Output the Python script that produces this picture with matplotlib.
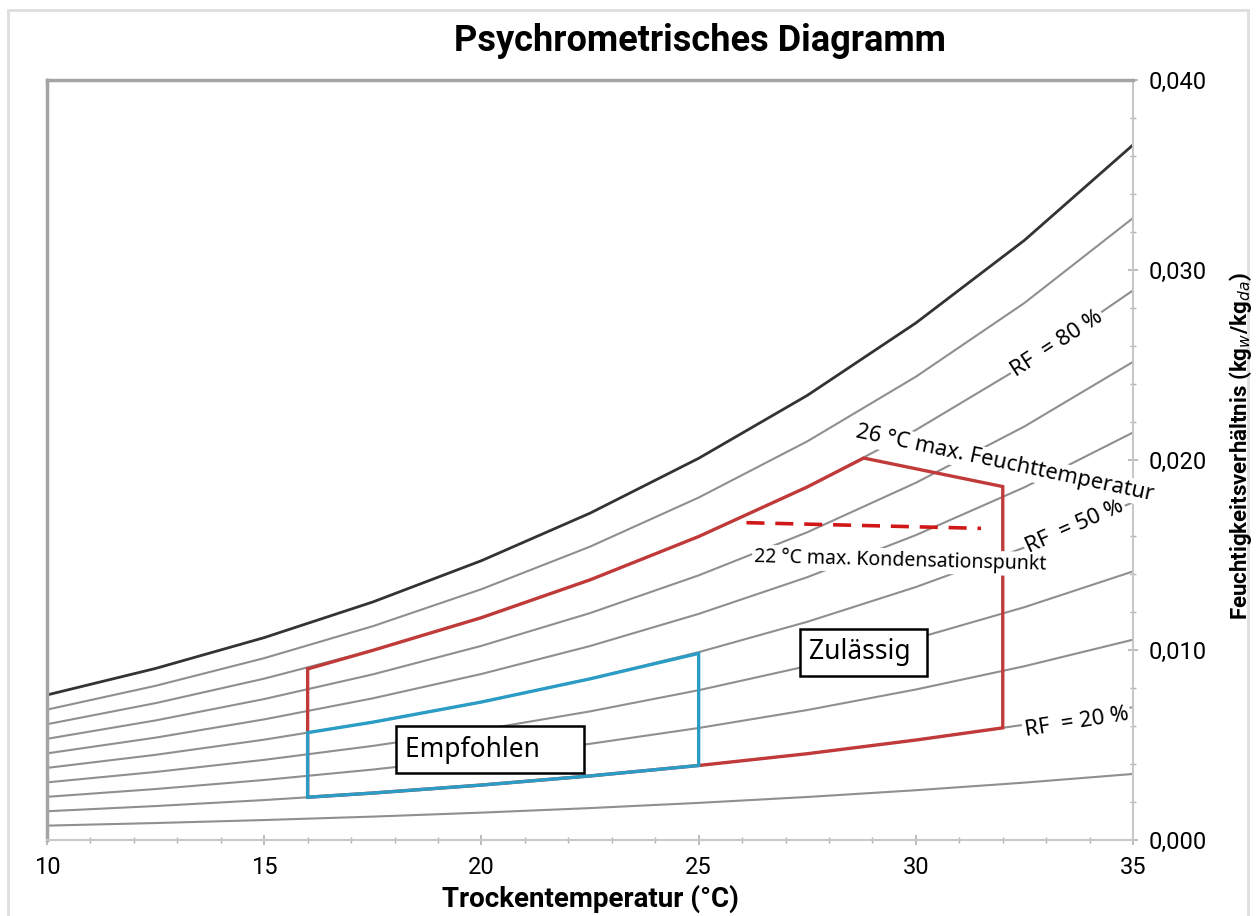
import matplotlib.pyplot as plt
from matplotlib.ticker import MultipleLocator, FuncFormatter
from matplotlib.patches import Rectangle

# ---- Dry-bulb temperatures (°C) for the relative humidity curves ----
temps = [10, 12.5, 15, 17.5, 20, 22.5, 25, 27.5, 30, 32.5, 35]

# ---- Humidity ratio (kg/kg) along each RH curve ----
rf10 = [0.000755, 0.000891, 0.001049, 0.001230, 0.001439, 0.001678, 0.001952, 0.002263, 0.002618, 0.003019, 0.003475]
rf20 = [0.001512, 0.001785, 0.002101, 0.002465, 0.002885, 0.003366, 0.003916, 0.004543, 0.005258, 0.006067, 0.006989]
rf30 = [0.002270, 0.002681, 0.003157, 0.003706, 0.004338, 0.005062, 0.005893, 0.006839, 0.007920, 0.009145, 0.010542]
rf40 = [0.003031, 0.003580, 0.004217, 0.004951, 0.005797, 0.006768, 0.007882, 0.009152, 0.010605, 0.012253, 0.014136]
rf50 = [0.003793, 0.004482, 0.005280, 0.006200, 0.007264, 0.008483, 0.009884, 0.011483, 0.013313, 0.015392, 0.017771]
rf60 = [0.004557, 0.005386, 0.006347, 0.007455, 0.008737, 0.010207, 0.011899, 0.013830, 0.016045, 0.018563, 0.021448]
rf70 = [0.005323, 0.006292, 0.007417, 0.008715, 0.010217, 0.011941, 0.013926, 0.016195, 0.018800, 0.021765, 0.025167]
rf80 = [0.006091, 0.007202, 0.008491, 0.009980, 0.011704, 0.013685, 0.015967, 0.018578, 0.021579, 0.024999, 0.028929]
rf90 = [0.006860, 0.008114, 0.009569, 0.011251, 0.013198, 0.015438, 0.018021, 0.020979, 0.024382, 0.028265, 0.032735]
rf100 = [0.007632, 0.009028, 0.010650, 0.012526, 0.014699, 0.017200, 0.020087, 0.023397, 0.027210, 0.031565, 0.036587]

# ---- Allowable envelope (Zulässig) ----
allow_t = [16, 17.5, 20, 22.5, 25, 27.5, 28.8, 32, 32, 30, 27.5, 25, 22.5, 20, 17.5, 16, 16]
allow_w = [0.0090, 0.00998, 0.01170, 0.01369, 0.01597, 0.01858, 0.0201, 0.0186, 0.0059,
           0.00526, 0.00454, 0.00392, 0.00337, 0.00289, 0.00247, 0.00225, 0.0090]

# ---- Recommended envelope (Empfohlen) ----
rec_t = [16, 17.5, 20, 22.5, 25, 25, 22.5, 20, 17.5, 16, 16]
rec_w = [0.00225, 0.00247, 0.00289, 0.00337, 0.00392, 0.00982, 0.00848, 0.00726, 0.00620, 0.00565, 0.00225]

# ---- 22 °C dew point limit ----
dew_t = [26.1, 31.5]
dew_w = [0.0167, 0.0164]

plt.rcParams['font.family'] = ['Noto Sans', 'DejaVu Sans']
narrow = ['Liberation Sans Narrow', 'Roboto', 'DejaVu Sans']

fig = plt.figure(figsize=(12.59, 9.16), dpi=100)
ax = fig.add_axes([0.0373, 0.083, 0.8627, 0.8297])

curves = [rf10, rf20, rf30, rf40, rf50, rf60, rf70, rf80, rf90]
for w in curves:
    ax.plot(temps, w, color='#8f8f8f', lw=1.5, zorder=2)
ax.plot(temps, rf100, color='#333333', lw=2.0, zorder=2)

ax.plot(allow_t, allow_w, color='#c03a3a', lw=2.4, zorder=4, solid_joinstyle='miter')
ax.plot(rec_t, rec_w, color='#2b9cc6', lw=2.4, zorder=5, solid_joinstyle='miter')
ax.plot(dew_t, dew_w, color='#d01818', lw=2.6, ls=(0, (5, 3)), zorder=5)

# ---- Labels on the curves ----
white = dict(facecolor='white', edgecolor='none', pad=1.5)
ax.text(33.25, 0.0261, 'RF  = 80 %', rotation=33, fontsize=16, ha='center', va='center',
        bbox=white, zorder=6)
ax.text(33.65, 0.0165, 'RF  = 50 %', rotation=24, fontsize=16, ha='center', va='center',
        bbox=white, zorder=6)
ax.text(33.7, 0.0062, 'RF  = 20 %', rotation=9, fontsize=16, ha='center', va='center',
        bbox=white, zorder=6)
ax.text(32.05, 0.0198, '26 °C max. Feuchttemperatur', rotation=-12, fontsize=15.8,
        ha='center', va='center', bbox=white, zorder=6)
ax.text(29.64, 0.0147, '22 °C max. Kondensationspunkt', rotation=-1.5, fontsize=14,
        ha='center', va='center', bbox=white, zorder=6)

box = dict(facecolor='white', edgecolor='black', lw=1.8, boxstyle='square,pad=0.35')
ax.text(27.55, 0.00987, 'Zulässig ', fontsize=19, ha='left', va='center', bbox=box, zorder=7)
ax.text(18.25, 0.00475, 'Empfohlen     ', fontsize=19, ha='left', va='center', bbox=box, zorder=7)

# ---- Axes ----
ax.set_xlim(10, 35)
ax.set_ylim(0, 0.040)
ax.xaxis.set_major_locator(MultipleLocator(5))
ax.xaxis.set_minor_locator(MultipleLocator(1))
ax.yaxis.set_major_locator(MultipleLocator(0.010))
ax.yaxis.set_minor_locator(MultipleLocator(0.002))
ax.yaxis.tick_right()
ax.yaxis.set_major_formatter(FuncFormatter(lambda v, p: f'{v:.3f}'.replace('.', ',')))
ax.tick_params(which='both', direction='inout', color='#b0b0b0')
ax.tick_params(which='major', length=7, width=1.2, labelsize=17, pad=8)
ax.tick_params(which='minor', length=5, width=1.0)
for lab in ax.get_xticklabels() + ax.get_yticklabels():
    lab.set_family(narrow)

for side in ['left', 'top']:
    ax.spines[side].set_color('#a4a4a4')
    ax.spines[side].set_linewidth(2.5)
for side in ['right', 'bottom']:
    ax.spines[side].set_color('#c8c8c8')
    ax.spines[side].set_linewidth(1.5)

ax.set_xlabel('Trockentemperatur (°C)', fontsize=20, fontweight='bold', family=narrow, labelpad=4)
fig.text(0.985, 0.513, 'Feuchtigkeitsverhältnis (kg$_w$/kg$_{da}$)', rotation=90,
         fontsize=16, fontweight='bold', family=narrow, ha='center', va='center')
fig.text(0.556, 0.955, 'Psychrometrisches Diagramm', fontsize=26, fontweight='bold',
         family=narrow, ha='center', va='center')

# light frame round the whole figure
fig.patches.append(Rectangle((0.0064, -0.01), 0.985, 0.999, transform=fig.transFigure,
                             fill=False, edgecolor='#dedede', lw=2))

fig.savefig('out.png', dpi=100)
